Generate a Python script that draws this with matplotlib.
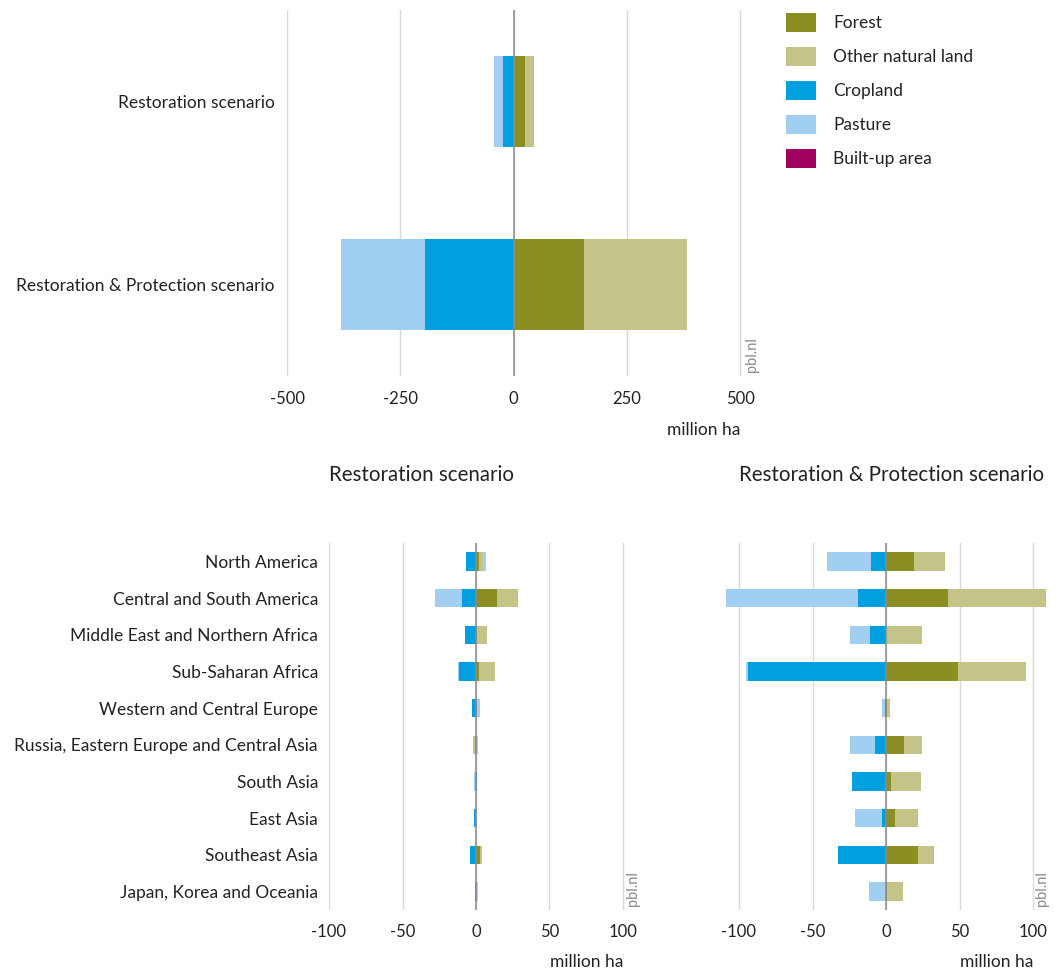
import matplotlib
matplotlib.use("Agg")
import matplotlib.pyplot as plt
import matplotlib.transforms as mtransforms
from matplotlib.patches import Patch
import numpy as np

plt.rcParams['font.family'] = ['Lato', 'DejaVu Sans']

# ---------------- data ----------------
land_types = ["Forest", "Other natural land", "Cropland", "Pasture", "Built-up area"]
colors = ["#8b8f23", "#c4c388", "#009fe0", "#a0cff2", "#a0005f"]

scenarios = ["Restoration scenario", "Restoration & Protection scenario"]
top_forest = [24, 155]
top_other = [20, 227]
top_crop = [-24, -196]
top_pasture = [-19, -184]
top_built = [0, 0]

regions = ["North America", "Central and South America", "Middle East and Northern Africa",
           "Sub-Saharan Africa", "Western and Central Europe",
           "Russia, Eastern Europe and Central Asia", "South Asia", "East Asia",
           "Southeast Asia", "Japan, Korea and Oceania"]

# Restoration scenario per region
r_forest = [2.0, 14.3, 0.4, 1.8, 0.4, -0.6, 0.0, 0.0, 2.8, 0.0]
r_other = [2.5, 14.2, 7.0, 10.9, 0.0, -1.6, 0.0, 0.0, 1.2, 0.0]
r_crop = [-7.0, -9.2, -7.2, -11.3, -2.4, 0.0, 0.7, -1.4, -3.8, -1.0]
r_pasture = [2.5, -19.0, 0.0, -0.9, 2.0, 1.6, -1.2, 0.9, 0.0, 1.2]
r_built = [0, 0, 0, 0, 0, 0, 0, 0, 0, 0]

# Restoration & Protection scenario per region
p_forest = [19.2, 42.5, 0.0, 49.1, 0.8, 12.4, 3.4, 5.9, 21.5, 0.5]
p_other = [21.1, 66.5, 24.2, 46.4, 1.7, 12.4, 20.1, 15.6, 11.3, 10.8]
p_crop = [-10.4, -19.3, -11.1, -94.2, -0.5, -7.7, -22.9, -2.5, -32.6, 0.6]
p_pasture = [-29.4, -89.6, -13.1, -1.1, -2.0, -17.0, -0.5, -18.5, 0.0, -11.8]
p_built = [0, 0, 0, 0, 0, 0, 0, 0, 0, 0]

TEXT = "#222222"
GRID = "#d9d9d9"
ZERO = "#8a8a8a"
PBL = "#8a8a8a"


def stacked_diverging(ax, ylabels, series, height):
    y = np.arange(len(ylabels))
    pos = np.zeros(len(ylabels))
    neg = np.zeros(len(ylabels))
    for vals, col in zip(series, colors):
        v = np.asarray(vals, dtype=float)
        left = np.where(v >= 0, pos, neg)
        ax.barh(y, v, left=left, height=height, color=col, linewidth=0, zorder=2)
        pos = pos + np.where(v >= 0, v, 0)
        neg = neg + np.where(v < 0, v, 0)
    ax.set_yticks(y)
    ax.set_yticklabels(ylabels)
    ax.set_ylim(len(ylabels) - 0.5, -0.5)
    ax.axvline(0, color=ZERO, lw=1.1, zorder=3)
    for s in ax.spines.values():
        s.set_visible(False)
    ax.tick_params(axis='both', length=0, colors=TEXT)
    ax.grid(axis='x', color=GRID, lw=1, zorder=0)
    ax.set_axisbelow(True)


W, H = 1055, 976
fig = plt.figure(figsize=(W / 100, H / 100), dpi=100)


def fa(l, t, r, b):
    return fig.add_axes([l / W, 1 - b / H, (r - l) / W, (b - t) / H])


# ---------- top panel ----------
ax0 = fa(287, 10, 754, 376)
stacked_diverging(ax0, scenarios,
                  [top_forest, top_other, top_crop, top_pasture, top_built], 0.5)
ax0.set_ylim(1.5, -0.5)
ax0.set_xlim(-500, 530)
ticks0 = [-500, -250, 0, 250, 500]
ax0.set_xticks(ticks0)
ax0.set_xticklabels([str(t) for t in ticks0])
ax0.tick_params(axis='x', pad=11, labelsize=12)
ax0.tick_params(axis='y', pad=9, labelsize=12.5)
tr0 = mtransforms.blended_transform_factory(ax0.transData, ax0.transAxes)
ax0.text(500, -0.148, "million ha", transform=tr0, ha='right', va='center',
         fontsize=12.5, color=TEXT)
ax0.text(541, 0.01, "pbl.nl", transform=tr0, rotation=90, ha='right', va='bottom',
         fontsize=10.5, color=PBL, clip_on=False)

# ---------- bottom panels ----------
ticksb = [-100, -50, 0, 50, 100]
px_per_unit = 1.47
panels = [
    (329, 639, -100, 111.5, "Restoration scenario",
     [r_forest, r_other, r_crop, r_pasture, r_built], True),
    (739 - 12 * px_per_unit, 1050, -112, 111.0, "Restoration & Protection scenario",
     [p_forest, p_other, p_crop, p_pasture, p_built], False),
]
for l, r, xmin, pbl_x, title, series, show_labels in panels:
    ax = fa(l, 543, r, 910)
    stacked_diverging(ax, regions, series, 0.5)
    ax.set_xlim(xmin, xmin + (r - l) / px_per_unit)
    ax.set_xticks(ticksb)
    ax.set_xticklabels([str(t) for t in ticksb])
    ax.tick_params(axis='x', pad=10, labelsize=12)
    ax.tick_params(axis='y', pad=8, labelsize=12.5)
    if not show_labels:
        ax.set_yticklabels([])
    tr = mtransforms.blended_transform_factory(ax.transData, ax.transAxes)
    ax.text(-100, 1.185, title, transform=tr, ha='left', va='center',
            fontsize=14.8, color=TEXT)
    ax.text(100, -0.142, "million ha", transform=tr, ha='right', va='center',
            fontsize=12.5, color=TEXT)
    ax.text(pbl_x, 0.01, "pbl.nl", transform=tr, rotation=90,
            ha='right', va='bottom', fontsize=10.5, color=PBL, clip_on=False)

# ---------- legend ----------
fs = 12.5
fpx = fs * 100 / 72
handles = [Patch(facecolor=c, edgecolor='none') for c in colors]
fig.legend(handles, land_types, loc='upper left',
           bbox_to_anchor=(786 / W, 1 - 13 / H), frameon=False, borderpad=0,
           borderaxespad=0, fontsize=fs, handlelength=30 / fpx,
           handleheight=22 / fpx, labelspacing=(34 - 22 + 3.5) / fpx,
           handletextpad=(833 - 816) / fpx, labelcolor=TEXT)

fig.savefig("out.png", dpi=100)
